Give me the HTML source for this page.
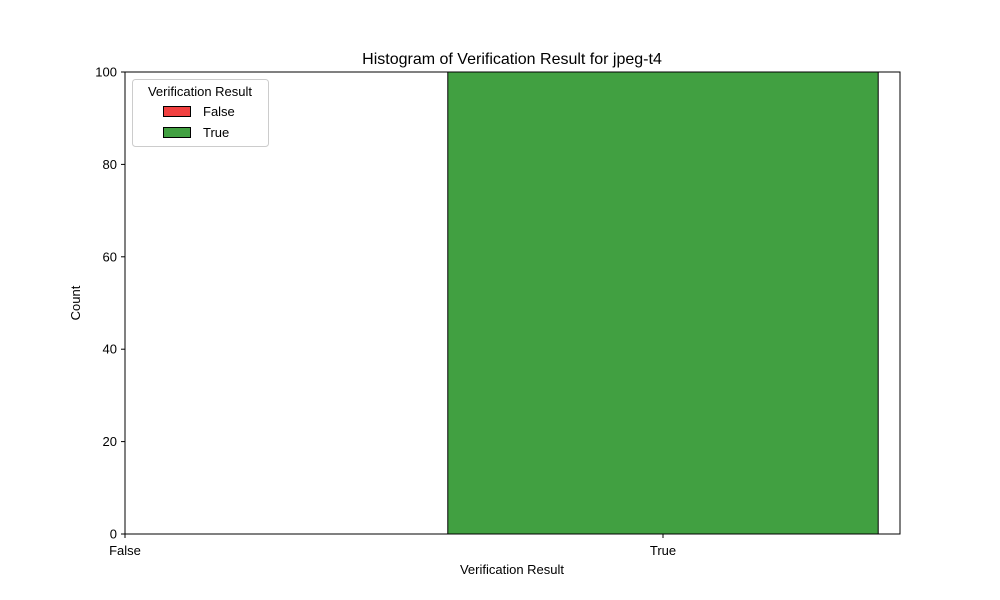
<!DOCTYPE html>
<html><head><meta charset="utf-8"><style>
body{margin:0;background:#fff}
svg{display:block;font-family:"Liberation Sans","DejaVu Sans",sans-serif}
</style></head><body>
<svg id="chart" width="1000" height="600">
<text x="512" y="64" text-anchor="middle" font-size="16">Histogram of Verification Result for jpeg-t4</text>
<g id="plot"></g>
<text x="512" y="574" text-anchor="middle" font-size="13">Verification Result</text>
<text transform="translate(80,303) rotate(-90)" text-anchor="middle" font-size="13">Count</text>
<g>
<rect x="132.5" y="79.5" width="136" height="67" rx="3" fill="#fff" stroke="#ccc"/>
<text x="200" y="96" text-anchor="middle" font-size="13">Verification Result</text>
<g>
<rect x="163.5" y="106.5" width="27" height="10" fill="#f14040" stroke="#000"/>
<text x="203" y="116" font-size="13">False</text></g>
<g>
<rect x="163.5" y="127.5" width="27" height="10" fill="#41a041" stroke="#000"/>
<text x="203" y="137" font-size="13">True</text></g>
</g>
</svg>
<script>
const categories = ["False", "True"];
const counts = [0, 100];
const yTicks = [0, 20, 40, 60, 80, 100];
const colors = ["#f14040", "#41a041"];

const L = 125, R = 900, T = 72, B = 534;
const xMax = (R - L) / 538;
const x = v => L + (v / xMax) * (R - L);
const y = v => B - (v / 100) * (B - T);
const g = document.getElementById('plot');
const NS = 'http://www.w3.org/2000/svg';
function mk(tag, attrs) { const e = document.createElementNS(NS, tag); for (const k in attrs) e.setAttribute(k, attrs[k]); g.appendChild(e); return e; }

categories.forEach((c, i) => {
  if (counts[i] > 0) {
    const r = mk('rect', { x: x(i - 0.4), y: y(counts[i]), width: x(i + 0.4) - x(i - 0.4), height: B - y(counts[i]), fill: colors[i], stroke: '#000', 'stroke-width': 1 });
    
    
  }
  const tk = mk('line', { x1: x(i), x2: x(i), y1: B, y2: B + 4, stroke: '#000' });
  
  
  const t = mk('text', { x: x(i), y: B + 21, 'text-anchor': 'middle', 'font-size': 13 });
  t.textContent = c;
  
  
});
yTicks.forEach(v => {
  const tk = mk('line', { x1: L - 4, x2: L, y1: y(v), y2: y(v), stroke: '#000' });
  
  
  const t = mk('text', { x: L - 8, y: y(v) + 4.5, 'text-anchor': 'end', 'font-size': 13 });
  t.textContent = v;
  
  
});
const frame = mk('rect', { x: L, y: T, width: R - L, height: B - T, fill: 'none', stroke: '#000' });


</script>
</body></html>
